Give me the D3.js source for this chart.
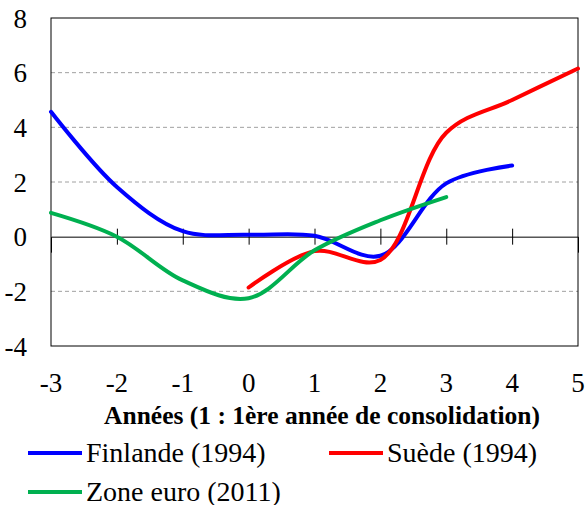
<!DOCTYPE html>
<html>
<head>
<meta charset="utf-8">
<script src="https://cdn.jsdelivr.net/npm/d3@7"></script>
</head>
<body style="margin:0">
<script>
// Données
const annees = [-3, -2, -1, 0, 1, 2, 3, 4, 5];
const finlande = [4.57, 1.82, 0.2, 0.07, 0.03, -0.7, 1.95, 2.6, null];
const suede = [null, null, null, -1.86, -0.53, -0.85, 3.8, 5.0, 6.15];
const zoneEuro = [0.87, 0.0, -1.6, -2.25, -0.5, 0.6, 1.45, null, null];
const yTicks = [-4, -2, 0, 2, 4, 6, 8];

const series = [
  {nom: "Finlande (1994)", valeurs: finlande, couleur: "#0000ff"},
  {nom: "Suède (1994)", valeurs: suede, couleur: "#ff0000"},
  {nom: "Zone euro (2011)", valeurs: zoneEuro, couleur: "#00b050"}
];

const police = d => `"Liberation Serif"`;

// Configuration
const width = 586, height = 505;
const margin = {top: 18, right: 8, bottom: 159, left: 51};

const svg = d3.select("body").append("svg")
  .attr("width", width)
  .attr("height", height);

const x = d3.scaleLinear().domain([-3, 5]).range([margin.left, width - margin.right]);
const y = d3.scaleLinear().domain([-4, 8]).range([height - margin.bottom, margin.top]);

// grille pointillée
svg.selectAll("line.grille")
  .data(yTicks.filter(d => d !== 0 && d !== 8 && d !== -4))
  .enter().append("line")
  .attr("class", "grille")
  .attr("x1", x(-3)).attr("x2", x(5))
  .attr("y1", d => y(d)).attr("y2", d => y(d))
  .attr("stroke", "#a0a0a0")
  .attr("stroke-width", 1)
  .attr("stroke-dasharray", "4,3");

// cadre
svg.append("rect")
  .attr("x", x(-3)).attr("y", y(8))
  .attr("width", x(5) - x(-3)).attr("height", y(-4) - y(8))
  .attr("fill", "none").attr("stroke", "#000").attr("stroke-width", 1);

// axe horizontal à zéro avec graduations (sans texte)
svg.append("g")
  .attr("transform", `translate(0,${y(0)})`)
  .call(d3.axisBottom(x).tickValues(d3.range(-2, 5)).tickSize(16).tickFormat(""))
  .call(g => g.select(".domain").attr("stroke", "#000"))
  .call(g => g.selectAll(".tick line").attr("y1", -8).attr("y2", 8).attr("stroke", "#000"));

// étiquettes Y
svg.selectAll("text.ylab")
  .data(yTicks)
  .enter().append("text")
  .attr("class", "ylab")
  .attr("x", 27)
  .attr("y", d => y(d))
  .attr("dy", "0.36em")
  .attr("text-anchor", "end")
  .style("font-family", police)
  .style("font-size", "27px")
  .text(d => d);

// étiquettes X
svg.selectAll("text.xlab")
  .data(annees)
  .enter().append("text")
  .attr("class", "xlab")
  .attr("x", d => x(d))
  .attr("y", 392)
  .attr("text-anchor", "middle")
  .style("font-family", police)
  .style("font-size", "27px")
  .text(d => d);

// titre de l'axe
svg.selectAll("text.titre")
  .data(["Années (1 : 1ère année de consolidation)"])
  .enter().append("text")
  .attr("class", "titre")
  .attr("x", 322)
  .attr("y", 424)
  .attr("text-anchor", "middle")
  .style("font-family", police)
  .style("font-size", "25.5px")
  .style("font-weight", "bold")
  .text(d => d);

// courbes lissées
const ligne = d3.line()
  .x(d => x(d[0]))
  .y(d => y(d[1]))
  .curve(d3.curveCatmullRom.alpha(0.5));

svg.selectAll("path.serie")
  .data(series)
  .enter().append("path")
  .attr("class", "serie")
  .attr("d", s => ligne(annees.map((a, i) => [a, s.valeurs[i]]).filter(d => d[1] !== null)))
  .attr("fill", "none")
  .attr("stroke", s => s.couleur)
  .attr("stroke-width", 4)
  .attr("stroke-linecap", "round");

// légende
const legendePos = [[28, 453], [329, 453], [28, 492]];

svg.selectAll("line.leg")
  .data(series)
  .enter().append("line")
  .attr("class", "leg")
  .attr("x1", (d, i) => legendePos[i][0])
  .attr("x2", (d, i) => legendePos[i][0] + 54)
  .attr("y1", (d, i) => legendePos[i][1])
  .attr("y2", (d, i) => legendePos[i][1])
  .attr("stroke", d => d.couleur)
  .attr("stroke-width", 4);

svg.selectAll("text.leg")
  .data(series)
  .enter().append("text")
  .attr("class", "leg")
  .attr("x", (d, i) => legendePos[i][0] + 58)
  .attr("y", (d, i) => legendePos[i][1] + 9)
  .style("font-family", police)
  .style("font-size", "28px")
  .text(d => d.nom);
</script>
</body>
</html>
